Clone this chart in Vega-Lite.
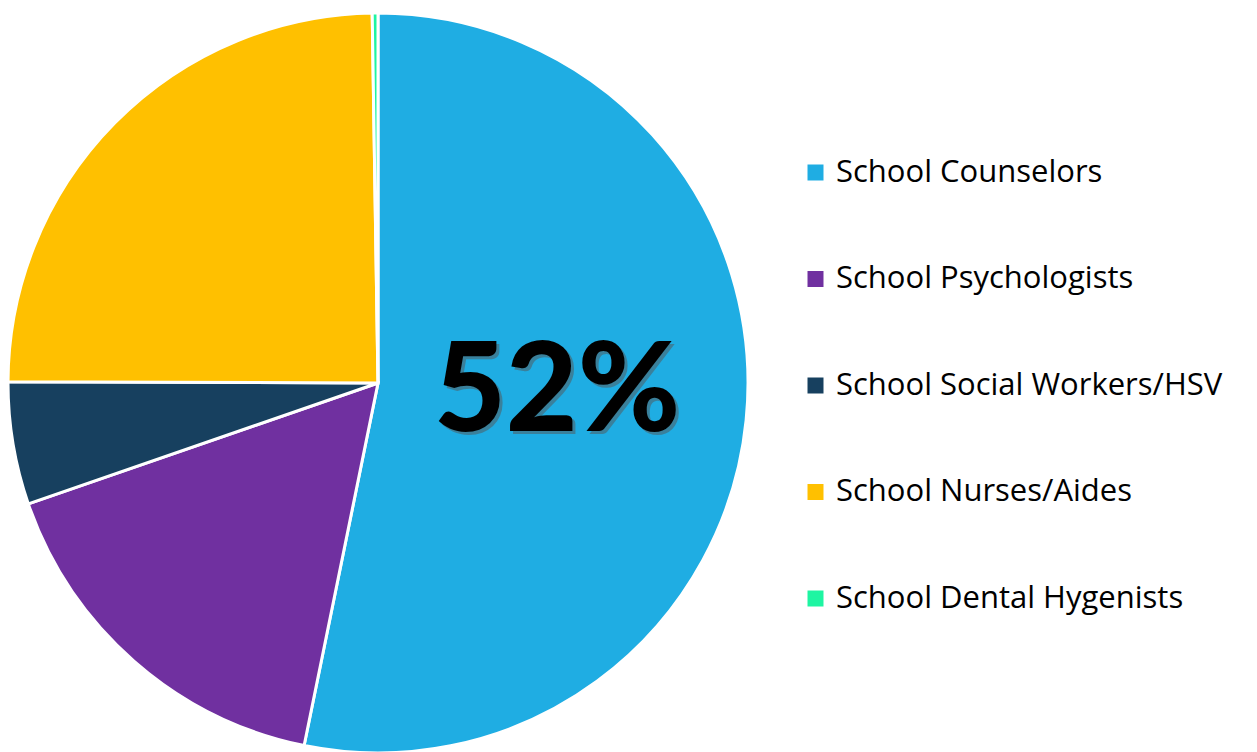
{
  "$schema": "https://vega.github.io/schema/vega-lite/v6.json",
  "width": 756,
  "height": 766,
  "padding": 0,
  "autosize": {"type": "pad"},
  "background": "white",
  "config": {"view": {"stroke": null}},
  "data": {
    "values": [
      {"idx": 1, "category": "School Counselors", "value": 53.2, "label": "52%"},
      {"idx": 2, "category": "School Psychologists", "value": 16.5, "label": ""},
      {"idx": 3, "category": "School Social Workers/HSV", "value": 5.35, "label": ""},
      {"idx": 4, "category": "School Nurses/Aides", "value": 24.7, "label": ""},
      {"idx": 5, "category": "School Dental Hygenists", "value": 0.25, "label": ""}
    ]
  },
  "encoding": {
    "theta": {"field": "value", "type": "quantitative", "stack": true},
    "order": {"field": "idx", "type": "quantitative"}
  },
  "layer": [
    {
      "mark": {"type": "arc", "radius": 370, "stroke": "white", "strokeWidth": 3},
      "encoding": {
        "color": {
          "field": "category",
          "type": "nominal",
          "sort": ["School Counselors", "School Psychologists", "School Social Workers/HSV", "School Nurses/Aides", "School Dental Hygenists"],
          "scale": {
            "domain": ["School Counselors", "School Psychologists", "School Social Workers/HSV", "School Nurses/Aides", "School Dental Hygenists"],
            "range": ["#1FADE3", "#7030A0", "#17405F", "#FFC000", "#1EF5A2"]
          },
          "legend": {
            "orient": "none",
            "legendX": 800,
            "legendY": 157,
            "title": null,
            "symbolType": "square",
            "symbolSize": 256,
            "symbolStrokeWidth": 0,
            "labelFont": "Open Sans",
            "labelFontSize": 31,
            "labelColor": "#000000",
            "labelOffset": 5,
            "rowPadding": 74.5,
            "labelLimit": 600
          }
        }
      }
    },
    {
      "mark": {"type": "text", "radius": 180, "font": "Lato", "fontWeight": 900, "fontSize": 124, "color": "#555555", "opacity": 0.5, "dx": 3, "dy": -4},
      "encoding": {"text": {"field": "label"}}
    },
    {
      "mark": {"type": "text", "radius": 180, "font": "Lato", "fontWeight": 900, "fontSize": 124, "color": "#000000", "dy": -7},
      "encoding": {"text": {"field": "label"}}
    }
  ]
}
